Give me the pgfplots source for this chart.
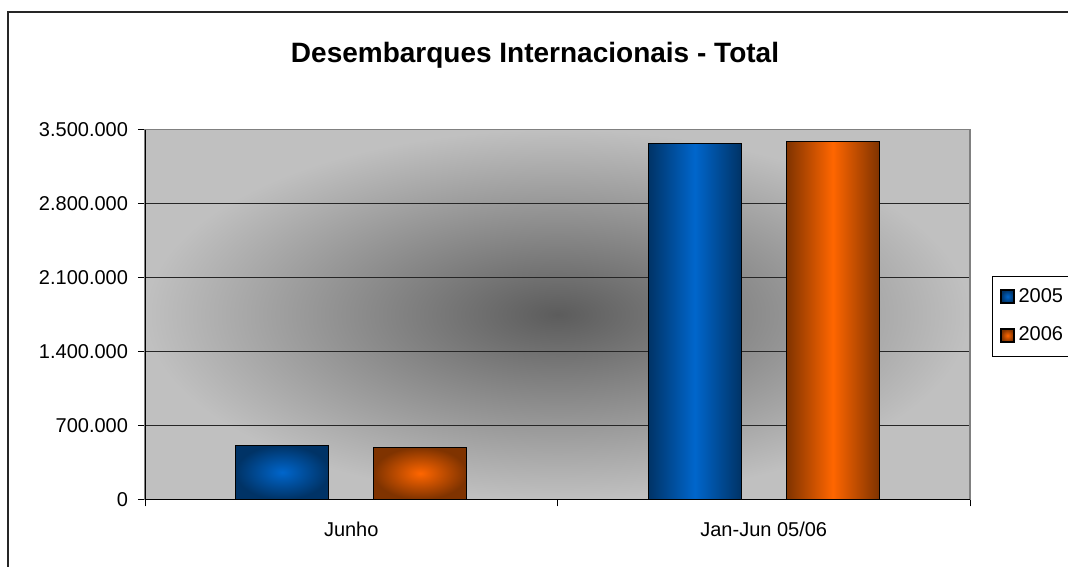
\documentclass[border=0pt]{standalone}
\usepackage{pgfplots}
\pgfplotsset{compat=1.18}
\usepackage{fontspec}
\setmainfont{Liberation Sans}

\definecolor{blueedge}{HTML}{003366}
\definecolor{bluemid}{HTML}{0066CC}
\definecolor{orgedge}{HTML}{7F3300}
\definecolor{orgmid}{HTML}{FF6600}
\definecolor{bgedge}{HTML}{C0C0C0}
\definecolor{bgmid}{HTML}{5C5C5C}

\pgfplotsset{
  sqlegend/.style={legend image code/.code={
    \draw[##1,draw=black,line width=0.6bp] (0bp,-3.25bp) rectangle (6.5bp,3.25bp);}},
  bar05/.style={sqlegend, bar shift=-34.5bp, draw=black, line width=0.6bp,
    left color=blueedge, right color=blueedge, middle color=bluemid},
  bar06/.style={sqlegend, bar shift=34.5bp, draw=black, line width=0.6bp,
    left color=orgedge, right color=orgedge, middle color=orgmid},
  box05/.style={sqlegend, bar shift=-34.5bp, draw=black, line width=0.6bp,
    inner color=bluemid, outer color=blueedge},
  box06/.style={sqlegend, bar shift=34.5bp, draw=black, line width=0.6bp,
    inner color=orgmid, outer color=orgedge},
}

\begin{document}
\begin{tikzpicture}
\clip (0,0) rectangle (534bp,283.5bp);
\draw[line width=0.8bp, black!85] (4bp,-10bp) rectangle (560bp,277.5bp);
\node[font=\fontsize{14bp}{16bp}\selectfont\bfseries] at (267.5bp,256bp)
  {Desembarques Internacionais - Total};
\begin{axis}[
  at={(72.5bp,33.85bp)}, anchor=south west,
  scale only axis, width=412.5bp, height=184.9bp,
  ybar, bar width=46.5bp,
  xmin=-0.5, xmax=1.5, ymin=0, ymax=3500000,
  xtick={0,1}, xticklabels={Junho, Jan-Jun 05/06},
  minor xtick={-0.5,0.5,1.5},
  ytick={0,700000,1400000,2100000,2800000,3500000},
  yticklabels={0,700.000,1.400.000,2.100.000,2.800.000,3.500.000},
  scaled y ticks=false,
  tick pos=left, tick align=outside,
  major tick length=3.5bp, minor tick length=3.5bp,
  major x tick style={draw=none},
  tick style={black, line width=0.5bp},
  ymajorgrids, grid style={black!85, line width=0.5bp},
  axis line style={draw=gray, line width=0.8bp},
  axis background/.style={inner color=bgmid, outer color=bgedge},
  tick label style={font=\fontsize{10bp}{12bp}\selectfont},
  xticklabel style={yshift=-4.5bp},
  yticklabel style={xshift=-1.5bp},
  legend style={at={(1.0267,0.6047)}, anchor=north west, draw=black, fill=white,
    font=\fontsize{10bp}{12bp}\selectfont, row sep=7bp, inner xsep=4bp, inner ysep=4bp},
  legend cell align=left,
]
\addplot[box05] coordinates {(0,511000)};
\addplot[box06] coordinates {(0,492000)};
\addplot[bar05, forget plot] coordinates {(1,3369000)};
\addplot[bar06, forget plot] coordinates {(1,3384000)};
\legend{2005,2006}
\draw[black, line width=0.6bp] (rel axis cs:0,1) -- (rel axis cs:0,0) -- (rel axis cs:1,0);
\end{axis}
\end{tikzpicture}
\end{document}
